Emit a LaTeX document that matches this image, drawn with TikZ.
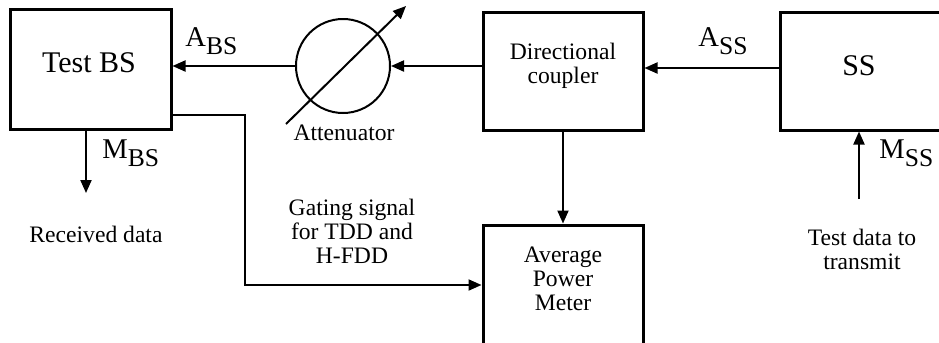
\documentclass[tikz,border=0pt]{standalone}
\usepackage{fontspec}
\setmainfont{Liberation Serif}
\usetikzlibrary{arrows.meta}
\newcommand{\sigsub}[2]{#1\raisebox{-4pt}{\fontsize{12.8}{13}\selectfont #2}}
\begin{document}
\begin{tikzpicture}[x=0.5pt,y=-0.5pt,
    box/.style={draw,line width=1.5pt,inner sep=0pt},
    big/.style={font=\fontsize{15}{16}\selectfont,inner sep=0pt},
    sig/.style={font=\fontsize{14.3}{15}\selectfont,inner sep=0pt},
    small/.style={font=\fontsize{11.8}{12}\selectfont,align=center,inner sep=0pt},
    conn/.style={line width=1pt,-{Triangle[length=6.5pt,width=5.5pt]}}]
  \useasboundingbox (0,0) rectangle (939,343);
  \clip (0,0) rectangle (939,343);
  % blocks
  \node[box,minimum width=80.5pt,minimum height=60pt] (tbs) at (90.5,69) {};
  \node[big,anchor=base] (tbstext) at (89,72) {Test BS};
  \node[draw,circle,line width=1pt,minimum size=47pt,inner sep=0pt] (att) at (343,66) {};
  \node[small,anchor=base] (atttext) at (344,140) {Attenuator};
  \node[box,minimum width=80pt,minimum height=59pt] (dc) at (563,71) {};
  \node[small] (dctext) at (563,66) {Directional\\coupler};
  \node[box,minimum width=81pt,minimum height=59pt] (ss) at (861,71) {};
  \node[big,anchor=base] (sstext) at (859,75) {SS};
  \node[box,minimum width=80pt,minimum height=60pt] (apm) at (563,285) {};
  \node[small] (apmtext) at (563,279) {Average\\Power\\Meter};
  % free ends
  \coordinate (rx) at (86,193);
  \coordinate (tx) at (859,199);
  % signal path
  \draw[conn] ([yshift=1.5pt]ss.west) -- ([yshift=1.5pt]dc.east);
  \draw[conn] (dc.west |- att.east) -- (att.east);
  \draw[conn] (att.west) -- (att.west -| tbs.east);
  \draw[conn] ([shift={(-57,58)}]att.center) -- ([shift={(63,-60)}]att.center);
  \draw[conn] (dc.south) -- (apm.north);
  \draw[conn] ([yshift=-23pt]tbs.east) -- ++(72,0) |- (apm.west);
  \draw[conn] (tbs.south -| rx) -- (rx);
  \draw[conn] (tx) -- (tx |- ss.south);
  % labels
  \node[sig,anchor=base west] (abs) at (185,46) {\sigsub{A}{BS}};
  \node[sig,anchor=base west] (ass) at (698,46) {\sigsub{A}{SS}};
  \node[sig,anchor=base west] (mbs) at (102,158) {\sigsub{M}{BS}};
  \node[sig,anchor=base west] (mss) at (879,158) {\sigsub{M}{SS}};
  \node[small] (rxtext) at (96,234) {Received data};
  \node[small] (txtext) at (862,249) {Test data to\\transmit};
  \node[small] (gate) at (352,231) {Gating signal\\for TDD and\\H-FDD};
\end{tikzpicture}
\end{document}
